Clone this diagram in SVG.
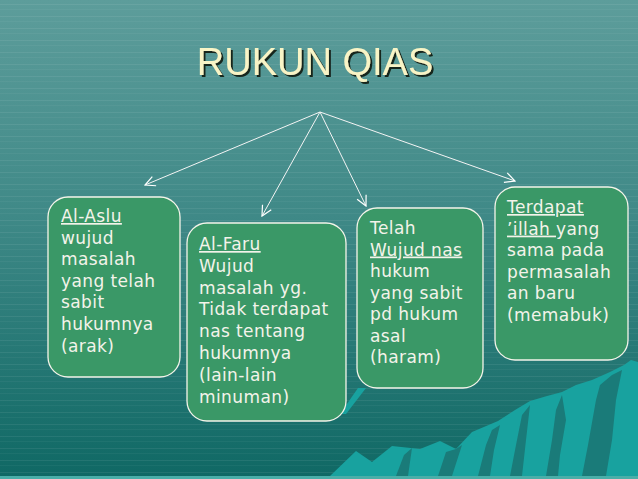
<svg xmlns="http://www.w3.org/2000/svg" width="638" height="479" viewBox="0 0 638 479">
<defs>
<linearGradient id="bg" x1="0" y1="0" x2="0" y2="1">
<stop offset="0" stop-color="#5d9d9b"/>
<stop offset="0.45" stop-color="#3f8987"/>
<stop offset="1" stop-color="#0f6864"/>
</linearGradient>
<pattern id="lines" width="638" height="12" patternUnits="userSpaceOnUse">
<rect x="0" y="4" width="638" height="1" fill="#ffffff" opacity="0.07"/>
<rect x="0" y="9" width="638" height="1" fill="#ffffff" opacity="0.04"/>
</pattern>
<filter id="shadow" x="-10%" y="-20%" width="120%" height="150%">
<feDropShadow dx="2" dy="2" stdDeviation="0.3" flood-color="#17261f" flood-opacity="1"/>
</filter>
<marker id="arr" viewBox="0 0 12 12" refX="11" refY="6" markerWidth="12" markerHeight="12" markerUnits="userSpaceOnUse" orient="auto">
<path d="M1,1 L11,6 L1,11" fill="none" stroke="#ffffff" stroke-width="1.2"/>
</marker>
</defs>
<style>
.box{fill:#3a9867;stroke:#f4f4ea;stroke-width:1.3}
.t{font-family:"DejaVu Sans","Verdana",sans-serif;font-size:17px;letter-spacing:0.4px;fill:#f3f3ea}
.u{text-decoration:underline}
.c{stroke:#f4f4f4;stroke-width:1;fill:none;marker-end:url(#arr)}
.title{font-family:"Liberation Sans",Arial,sans-serif;font-size:38px;fill:#f8f4c6}
</style>
<rect width="638" height="479" fill="url(#bg)"/>
<rect width="638" height="479" fill="url(#lines)"/>
<rect x="0" y="476" width="638" height="3" fill="#4aaea8"/>
<g id="mountains">
<polygon fill="#18a29f" points="330,476 356,451 372,462 392,446 420,449 440,441 456,449 472,432 498,421 515,410 530,401 547,396 562,392 576,385 592,380 610,372 624,365 631,360 638,362 638,476"/>
<polygon fill="#1a7b79" points="396,476 404,455 412,448 408,476"/>
<polygon fill="#1a7b79" points="438,476 446,452 456,449 462,445 452,476"/>
<polygon fill="#1a7b79" points="478,476 486,445 492,430 500,425 494,450 490,476"/>
<polygon fill="#1a7b79" points="510,476 516,445 522,415 530,405 526,440 522,476"/>
<polygon fill="#1a7b79" points="546,476 552,440 556,410 562,395 566,420 560,455 558,476"/>
<polygon fill="#1a7b79" points="582,476 588,445 596,400 600,385 612,375 622,370 616,400 612,440 606,476"/>
<polygon fill="#18a29f" points="340,414 358,388 366,388 346,414"/>
</g>
<g id="title">
<text class="title" x="315" y="75" text-anchor="middle" filter="url(#shadow)">RUKUN QIAS</text>
</g>
<g id="connectors">
<line class="c" x1="320" y1="112" x2="145" y2="185"/>
<line class="c" x1="320" y1="112" x2="262" y2="216"/>
<line class="c" x1="320" y1="112" x2="366" y2="206"/>
<line class="c" x1="320" y1="112" x2="515" y2="181"/>
</g>
<g id="al-aslu">
<rect class="box" x="48" y="197" width="132" height="180" rx="20"/>
<text class="t" x="61" y="222"><tspan class="u">Al-Aslu</tspan><tspan x="61" dy="21.6">wujud</tspan><tspan x="61" dy="21.6">masalah</tspan><tspan x="61" dy="21.6">yang telah</tspan><tspan x="61" dy="21.6">sabit</tspan><tspan x="61" dy="21.6">hukumnya</tspan><tspan x="61" dy="21.6">(arak)</tspan></text>
</g>
<g id="al-faru">
<rect class="box" x="187" y="223" width="159" height="198" rx="20"/>
<text class="t" x="199" y="250"><tspan class="u">Al-Faru</tspan><tspan x="199" dy="21.8">Wujud</tspan><tspan x="199" dy="21.8">masalah yg.</tspan><tspan x="199" dy="21.8">Tidak terdapat</tspan><tspan x="199" dy="21.8">nas tentang</tspan><tspan x="199" dy="21.8">hukumnya</tspan><tspan x="199" dy="21.8">(lain-lain</tspan><tspan x="199" dy="21.8">minuman)</tspan></text>
</g>
<g id="telah">
<rect class="box" x="357" y="208" width="126" height="180" rx="20"/>
<text class="t" x="370" y="234">Telah<tspan x="370" dy="21.5" class="u">Wujud nas</tspan><tspan x="370" dy="21.5">hukum</tspan><tspan x="370" dy="21.5">yang sabit</tspan><tspan x="370" dy="21.5">pd hukum</tspan><tspan x="370" dy="21.5">asal</tspan><tspan x="370" dy="21.5">(haram)</tspan></text>
</g>
<g id="terdapat">
<rect class="box" x="495" y="187" width="133" height="173" rx="20"/>
<text class="t" x="507" y="213"><tspan class="u">Terdapat</tspan><tspan x="507" dy="21.6" class="u">’illah </tspan>yang<tspan x="507" dy="21.6">sama pada</tspan><tspan x="507" dy="21.6">permasalah</tspan><tspan x="507" dy="21.6">an baru</tspan><tspan x="507" dy="21.6">(memabuk)</tspan></text>
</g>
</svg>
